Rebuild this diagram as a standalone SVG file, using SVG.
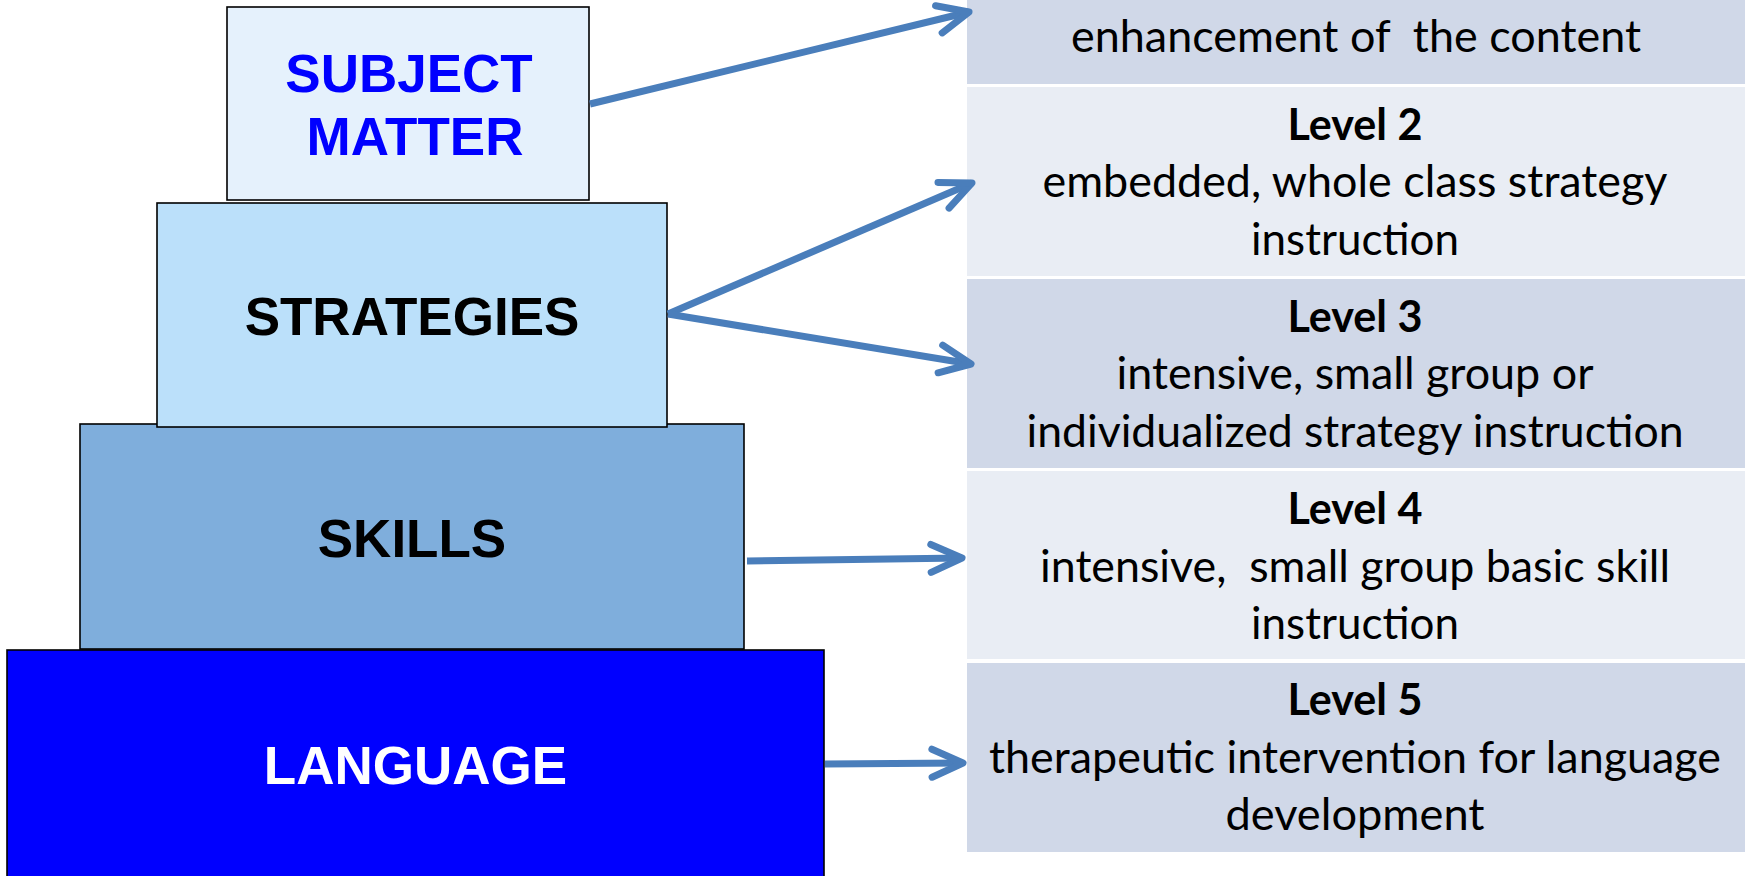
<svg xmlns="http://www.w3.org/2000/svg" width="1745" height="876" viewBox="0 0 1745 876">
<style>
.box{stroke:#000;stroke-width:1.6}
.lbl{font-family:"Liberation Sans",Arial,sans-serif;font-weight:bold;font-size:53px;text-anchor:middle}
.cellA{fill:#D0D8E8}
.cellB{fill:#E9EDF4}
.txt{font-family:Lato,"Open Sans",sans-serif;font-size:44px;fill:#000;text-anchor:middle}
.hd{font-weight:bold}
.conn{fill:none;stroke:#4A7EBB;stroke-width:7;stroke-linecap:butt}
</style>
<defs>
<marker id="ah" markerUnits="userSpaceOnUse" viewBox="-40 -25 50 50" markerWidth="50" markerHeight="50" refX="0" refY="0" orient="auto">
<path d="M-31,-14 L0,0 L-31,14" fill="none" stroke="#4A7EBB" stroke-width="7" stroke-linecap="round" stroke-linejoin="round"/>
</marker>
</defs>
<rect width="1745" height="876" fill="#FFFFFF"/>

<g id="level1">
<rect class="cellA" x="967" y="0" width="778" height="84"/>
<text class="txt" x="1356" y="52" xml:space="preserve" textLength="570" lengthAdjust="spacingAndGlyphs">enhancement of  the content</text>
</g>
<g id="level2">
<rect class="cellB" x="967" y="87" width="778" height="189"/>
<text class="txt hd" x="1355" y="140" textLength="135" lengthAdjust="spacingAndGlyphs">Level 2</text>
<text class="txt" x="1355" y="197" textLength="625" lengthAdjust="spacingAndGlyphs">embedded, whole class strategy</text>
<text class="txt" x="1355" y="255" textLength="208" lengthAdjust="spacingAndGlyphs">instruction</text>
</g>
<g id="level3">
<rect class="cellA" x="967" y="279" width="778" height="189"/>
<text class="txt hd" x="1355" y="332" textLength="135" lengthAdjust="spacingAndGlyphs">Level 3</text>
<text class="txt" x="1355" y="389" textLength="477" lengthAdjust="spacingAndGlyphs">intensive, small group or</text>
<text class="txt" x="1355" y="447" textLength="657" lengthAdjust="spacingAndGlyphs">individualized strategy instruction</text>
</g>
<g id="level4">
<rect class="cellB" x="967" y="471" width="778" height="188"/>
<text class="txt hd" x="1355" y="524" textLength="135" lengthAdjust="spacingAndGlyphs">Level 4</text>
<text class="txt" x="1355" y="582" xml:space="preserve" textLength="630" lengthAdjust="spacingAndGlyphs">intensive,  small group basic skill</text>
<text class="txt" x="1355" y="639" textLength="208" lengthAdjust="spacingAndGlyphs">instruction</text>
</g>
<g id="level5">
<rect class="cellA" x="967" y="663" width="778" height="189"/>
<text class="txt hd" x="1355" y="715" textLength="135" lengthAdjust="spacingAndGlyphs">Level 5</text>
<text class="txt" x="1355" y="773" textLength="732" lengthAdjust="spacingAndGlyphs">therapeutic intervention for language</text>
<text class="txt" x="1355" y="830" textLength="259" lengthAdjust="spacingAndGlyphs">development</text>
</g>

<g id="language">
<rect class="box" x="7" y="650" width="817" height="240" fill="#0000FF"/>
<text class="lbl" x="415.5" y="784" fill="#FFFFFF">LANGUAGE</text>
</g>
<g id="skills">
<rect class="box" x="80" y="424" width="664" height="225" fill="#7FAEDC"/>
<text class="lbl" x="412" y="557" fill="#000000">SKILLS</text>
</g>
<g id="strategies">
<rect class="box" x="157" y="203" width="510" height="224" fill="#BBE0FA"/>
<text class="lbl" x="412" y="335" fill="#000000">STRATEGIES</text>
</g>
<g id="subject-matter">
<rect class="box" x="227" y="7" width="362" height="193" fill="#E5F1FC"/>
<text class="lbl" x="409" y="92" fill="#0000FF">SUBJECT</text>
<text class="lbl" x="415" y="155" fill="#0000FF">MATTER</text>
</g>

<g id="connectors">
<path class="conn" d="M590,104 L969,12" marker-end="url(#ah)"/>
<path class="conn" d="M668,314 L972,183" marker-end="url(#ah)"/>
<path class="conn" d="M668,314 L971,364" marker-end="url(#ah)"/>
<path class="conn" d="M747,561 L962,558" marker-end="url(#ah)"/>
<path class="conn" d="M825,764 L963,763" marker-end="url(#ah)"/>
</g>
</svg>
